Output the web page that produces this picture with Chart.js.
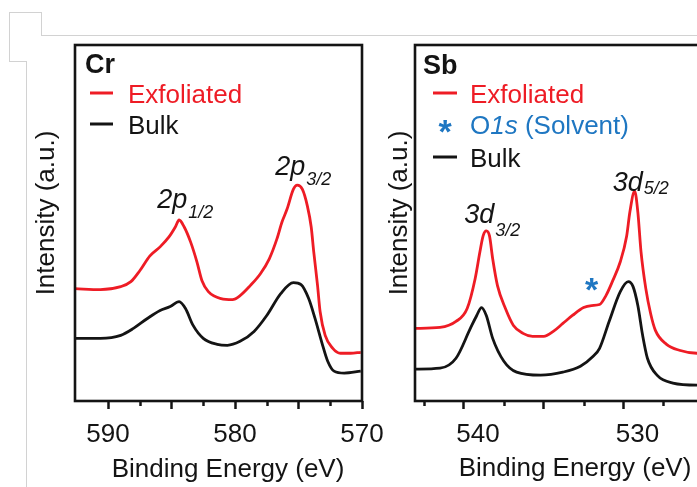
<!DOCTYPE html>
<html>
<head>
<meta charset="utf-8">
<script src="https://cdn.jsdelivr.net/npm/chart.js@4.4.1/dist/chart.umd.min.js"></script>
<style>
  html, body { margin: 0; padding: 0; background: #fff; }
  body { width: 697px; height: 487px; overflow: hidden; position: relative; }
  canvas { position: absolute; top: 0; }
  #cr { left: 0; }
  #sb { left: 380px; }
  .rule { position: absolute; background: #d2d2d2; }
</style>
</head>
<body>
<div class="rule" style="left:9px;top:12px;width:33px;height:1px"></div>
<div class="rule" style="left:41px;top:12px;width:1px;height:24px"></div>
<div class="rule" style="left:41px;top:35px;width:656px;height:1px"></div>
<div class="rule" style="left:9px;top:12px;width:1px;height:50px"></div>
<div class="rule" style="left:9px;top:61px;width:18px;height:1px"></div>
<div class="rule" style="left:26px;top:61px;width:1px;height:426px"></div>
<canvas id="cr" width="395" height="487"></canvas>
<canvas id="sb" width="420" height="487"></canvas>
<script>
// Cr 2p spectra (binding energy in eV, intensity in arbitrary units)
const crExfEnergy = [592.6, 590.6, 589.0, 588.2, 587.5, 586.7, 585.9, 585.2, 584.7, 584.4, 584.0, 583.5, 583.0, 582.6, 582.1, 581.1, 580.2, 579.6, 578.8, 578.0, 577.3, 576.7, 576.3, 575.9, 575.4, 575.1, 574.7, 574.3, 574.0, 573.8, 573.5, 573.3, 572.9, 572.3, 571.7, 570.9, 570.1];
const crExfIntensity = [113, 112, 115, 120, 131, 146, 155, 165, 175, 182, 175, 160, 140, 121, 110, 103, 102, 106, 116, 128, 143, 163, 180, 193, 213, 217, 213, 196, 175, 150, 116, 90, 66, 53, 48, 48, 49];
const crBulkEnergy = [592.6, 590.6, 589.0, 588.0, 586.9, 585.9, 585.1, 584.4, 583.9, 583.3, 582.5, 581.4, 580.6, 579.6, 578.5, 577.5, 576.4, 575.4, 574.8, 574.2, 573.7, 573.1, 572.7, 572.2, 571.4, 570.1];
const crBulkIntensity = [63, 63, 66, 73, 83, 91, 95, 100, 93, 76, 63, 57, 56, 60, 70, 86, 108, 119, 117, 103, 83, 56, 40, 30, 28, 30];

// Sb 3d spectra
const sbExfEnergy = [543.1, 541.5, 540.5, 539.8, 539.3, 539.0, 538.8, 538.6, 538.4, 538.2, 537.9, 537.4, 536.9, 536.3, 535.7, 535.0, 534.4, 533.8, 533.2, 532.5, 532.0, 531.5, 531.1, 530.7, 530.2, 529.8, 529.6, 529.3, 529.1, 528.9, 528.6, 528.3, 528.0, 527.3, 526.5, 525.4, 525.0];
const sbExfIntensity = [73, 74, 80, 93, 123, 150, 166, 171, 166, 143, 116, 93, 76, 68, 65, 65, 70, 78, 86, 94, 96, 97, 106, 120, 140, 166, 190, 211, 190, 150, 113, 88, 71, 57, 51, 48, 48];
const sbBulkEnergy = [543.1, 541.5, 540.5, 539.6, 539.2, 538.9, 538.6, 538.2, 537.5, 536.7, 535.2, 533.8, 532.7, 531.9, 531.5, 530.9, 530.2, 529.7, 529.4, 529.1, 528.8, 528.5, 527.9, 526.9, 525.4, 525.0];
const sbBulkIntensity = [32, 33, 43, 73, 86, 94, 86, 63, 40, 29, 26, 29, 35, 45, 53, 80, 110, 120, 115, 96, 66, 43, 26, 18, 16, 16];

// axis ticks
const crMajorTicks = [590, 585, 580, 575, 570];
const crMinorTicks = [587.5, 582.5, 577.5, 572.5];
const crTickLabels = [590, 580, 570];
const sbMajorTicks = [540, 535, 530, 525];
const sbMinorTicks = [542.5, 537.5, 532.5, 527.5];
const sbTickLabels = [540, 530];

const FONT = '"Liberation Sans", Arial, sans-serif';
const INK = '#141414';
const RED = '#ee1c25';
const BLUE = '#1f77c2';

const pairs = (xs, ys) => xs.map((x, i) => ({ x: x, y: ys[i] }));

function series(xs, ys, color) {
  return {
    data: pairs(xs, ys),
    showLine: true,
    borderColor: color,
    borderWidth: 2.8,
    pointRadius: 0,
    cubicInterpolationMode: 'monotone'
  };
}

function drawMixed(ctx, parts, x, y, size, color) {
  ctx.fillStyle = color;
  parts.forEach(([text, style]) => {
    ctx.font = style + ' ' + size + 'px ' + FONT;
    ctx.fillText(text, x, y);
    x += ctx.measureText(text).width;
  });
}

// frame, minor ticks, titles, legend and peak labels
const panelText = {
  id: 'panelText',
  afterDraw(chart, args, o) {
    const { ctx, chartArea: a } = chart;
    const x = chart.scales.x;
    ctx.save();
    ctx.lineWidth = 2.6;
    ctx.strokeStyle = INK;
    ctx.strokeRect(a.left, a.top, a.right - a.left, a.bottom - a.top);

    ctx.lineWidth = 2.5;
    o.minor.forEach(v => {
      const px = Math.round(x.getPixelForValue(v)) + 0.5;
      ctx.beginPath();
      ctx.moveTo(px, a.bottom);
      ctx.lineTo(px, a.bottom + 5);
      ctx.stroke();
    });

    ctx.textBaseline = 'alphabetic';
    ctx.textAlign = 'center';
    ctx.fillStyle = INK;
    ctx.font = '26px ' + FONT;
    ctx.fillText('Binding Energy (eV)', o.xTitle[0], o.xTitle[1]);

    ctx.save();
    ctx.translate(o.yTitle[0], o.yTitle[1]);
    ctx.rotate(-Math.PI / 2);
    ctx.fillText('Intensity (a.u.)', 0, 0);
    ctx.restore();

    ctx.textAlign = 'left';
    ctx.font = 'bold 27px ' + FONT;
    ctx.fillText(o.name, o.nameAt[0], o.nameAt[1]);

    o.legend.forEach(item => {
      if (item.star) {
        ctx.textAlign = 'center';
        ctx.fillStyle = item.color;
        ctx.font = 'bold 34px ' + FONT;
        ctx.fillText('*', (o.lineX[0] + o.lineX[1]) / 2, item.y + 19);
        ctx.textAlign = 'left';
      } else {
        ctx.strokeStyle = item.color;
        ctx.lineWidth = 3;
        ctx.beginPath();
        ctx.moveTo(o.lineX[0], item.y);
        ctx.lineTo(o.lineX[1], item.y);
        ctx.stroke();
      }
      drawMixed(ctx, item.parts, o.textX, item.y + 10, 26, item.textColor || item.color);
    });

    o.peaks.forEach(p => {
      const px = x.getPixelForValue(p.at) - 22;
      ctx.fillStyle = INK;
      ctx.font = 'italic 27px ' + FONT;
      ctx.fillText(p.main, px, p.y);
      const w = ctx.measureText(p.main).width;
      ctx.font = 'italic 18px ' + FONT;
      ctx.fillText(p.sub, px + w + 1, p.subY);
    });

    (o.marks || []).forEach(m => {
      ctx.textAlign = 'center';
      ctx.fillStyle = BLUE;
      ctx.font = 'bold 34px ' + FONT;
      ctx.fillText('*', x.getPixelForValue(m.at), m.y + 19);
    });
    ctx.restore();
  }
};

function makePanel(id, cfg) {
  return new Chart(document.getElementById(id), {
    type: 'scatter',
    data: {
      datasets: [
        series(cfg.bulkE, cfg.bulkI, INK),
        series(cfg.exfE, cfg.exfI, RED)
      ]
    },
    options: {
      responsive: false,
      animation: false,
      devicePixelRatio: 1,
      layout: { padding: { top: 45, right: cfg.padRight, left: 0, bottom: 0 } },
      plugins: {
        legend: { display: false },
        tooltip: { enabled: false },
        panelText: cfg.text
      },
      scales: {
        x: {
          type: 'linear',
          reverse: true,
          min: cfg.min,
          max: cfg.max,
          afterBuildTicks: axis => { axis.ticks = cfg.major.map(v => ({ value: v })); },
          afterFit: axis => { axis.height = 86; },
          border: { display: false },
          grid: {
            display: true,
            drawOnChartArea: false,
            drawTicks: true,
            tickLength: 8,
            tickWidth: 2.5,
            tickColor: INK
          },
          ticks: {
            color: INK,
            padding: 10,
            maxRotation: 0,
            autoSkip: false,
            labelOffset: cfg.labelOffset,
            font: { family: FONT, size: 26 },
            callback: v => cfg.labels.includes(v) ? String(v) : ''
          }
        },
        y: {
          min: 0,
          max: 358,
          afterFit: axis => { axis.width = cfg.yWidth; },
          border: { display: false },
          grid: { display: false },
          ticks: { display: false }
        }
      }
    },
    plugins: [panelText]
  });
}

makePanel('cr', {
  exfE: crExfEnergy, exfI: crExfIntensity,
  bulkE: crBulkEnergy, bulkI: crBulkIntensity,
  min: 570, max: 592.6,
  major: crMajorTicks, labels: crTickLabels, labelOffset: 0,
  yWidth: 75, padRight: 33,
  text: {
    minor: crMinorTicks,
    name: 'Cr', nameAt: [85, 73],
    xTitle: [228, 477], yTitle: [54, 213],
    lineX: [90, 113], textX: 128,
    legend: [
      { y: 93, color: RED, parts: [['Exfoliated', 'normal']] },
      { y: 124, color: INK, parts: [['Bulk', 'normal']] }
    ],
    peaks: [
      { at: 584.4, main: '2p', sub: '1/2', y: 208, subY: 218 },
      { at: 575.1, main: '2p', sub: '3/2', y: 175, subY: 185 }
    ]
  }
});

makePanel('sb', {
  exfE: sbExfEnergy, exfI: sbExfIntensity,
  bulkE: sbBulkEnergy, bulkI: sbBulkIntensity,
  min: 520, max: 543.07,
  major: sbMajorTicks, labels: sbTickLabels, labelOffset: 14,
  yWidth: 35, padRight: 17,
  text: {
    minor: sbMinorTicks,
    name: 'Sb', nameAt: [43, 74],
    xTitle: [195, 476], yTitle: [27, 213],
    lineX: [53, 77], textX: 90,
    legend: [
      { y: 93, color: RED, parts: [['Exfoliated', 'normal']] },
      { y: 124, star: true, color: BLUE, parts: [['O', 'normal'], ['1s', 'italic'], [' (Solvent)', 'normal']] },
      { y: 157, color: INK, parts: [['Bulk', 'normal']] }
    ],
    peaks: [
      { at: 538.6, main: '3d', sub: '3/2', y: 223, subY: 236 },
      { at: 529.3, main: '3d', sub: '5/2', y: 191, subY: 194 }
    ],
    marks: [{ at: 532.0, y: 282 }]
  }
});
</script>
</body>
</html>
